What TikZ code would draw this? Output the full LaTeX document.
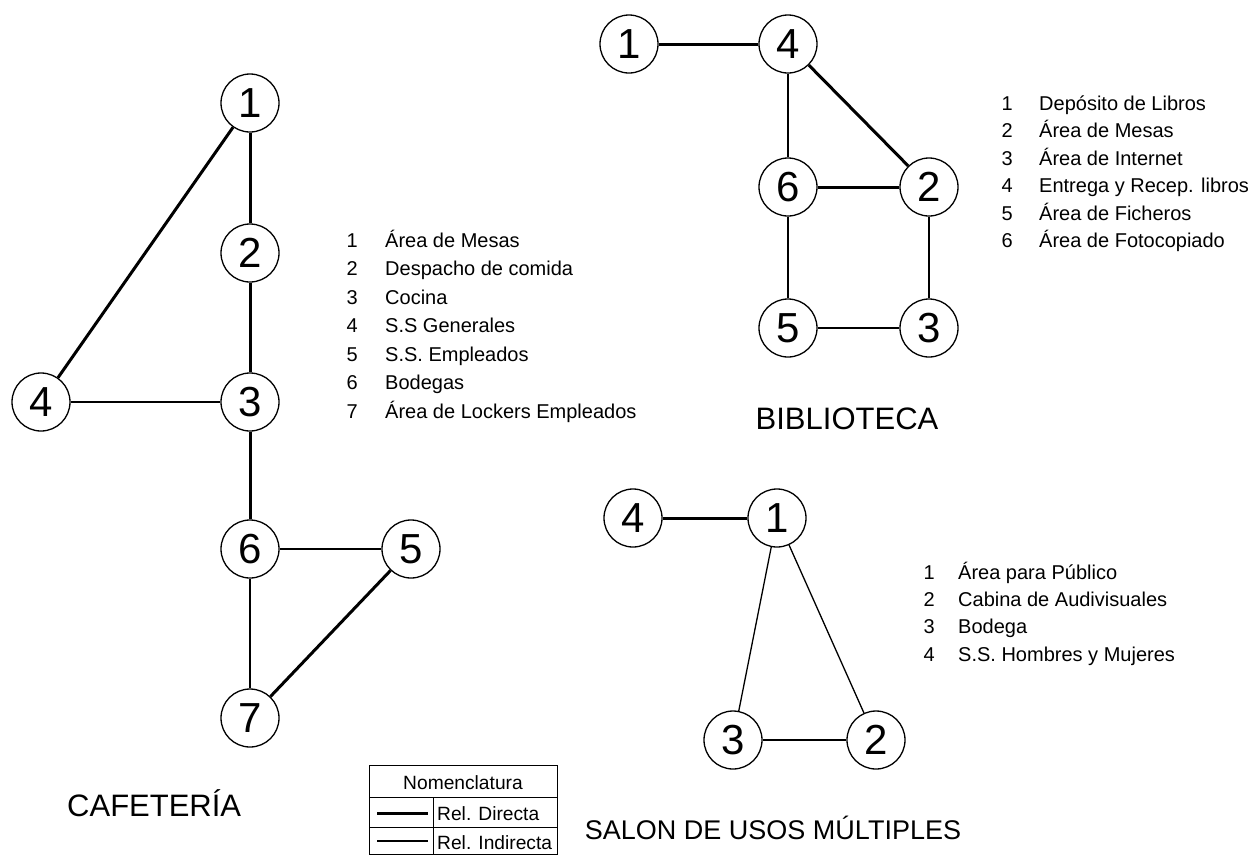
\documentclass[tikz,border=0pt]{standalone}
\usepackage{fontspec}
\setmainfont{Liberation Sans}
\begin{document}
\begin{tikzpicture}[x=1pt,y=-1pt,
  nd/.style={draw,circle,line width=1.3pt,minimum size=58pt,inner sep=0pt,font=\fontsize{42}{42}\selectfont},
  thk/.style={line width=3pt},
  thn/.style={line width=1.3pt},
  num/.style={anchor=base east,inner sep=0pt,font=\fontsize{20}{20}\selectfont},
  lbl/.style={anchor=base west,inner sep=0pt,font=\fontsize{20}{20}\selectfont},
  ttl/.style={inner sep=0pt,font=\fontsize{31}{31}\selectfont},
  ttls/.style={inner sep=0pt,font=\fontsize{27}{27}\selectfont},
  leg/.style={inner sep=0pt,font=\fontsize{19.2}{19.2}\selectfont}]
\useasboundingbox (0,0) rectangle (1253,855);
\fill[white] (0,0) rectangle (1253,855);

% ---------- CAFETERIA ----------
\node[nd] (c1) at (250,103) {1};
\node[nd] (c2) at (250,253) {2};
\node[nd] (c3) at (250,402) {3};
\node[nd] (c4) at (41,402) {4};
\node[nd] (c6) at (250,549) {6};
\node[nd] (c5) at (411,549) {5};
\node[nd] (c7) at (250,718) {7};
\draw[thk] (c1) -- (c2);
\draw[thk] (c2) -- (c3);
\draw[thk] (c1) -- (c4);
\draw[thn] (c4) -- (c3);
\draw[thk] (c3) -- (c6);
\draw[thn] (c6) -- (c5);
\draw[thn] (c6) -- (c7);
\draw[thk] (c5) -- (c7);

\node[num] (cn1) at (358,247) {1}; \node[lbl] (cl1) at (385,247) {Área de Mesas};
\node[num] (cn2) at (358,275.5) {2}; \node[lbl] (cl2) at (385,275.5) {Despacho de comida};
\node[num] (cn3) at (358,304) {3}; \node[lbl] (cl3) at (385,304) {Cocina};
\node[num] (cn4) at (358,332.5) {4}; \node[lbl] (cl4) at (385,332.5) {S.S Generales};
\node[num] (cn5) at (358,361) {5}; \node[lbl] (cl5) at (385,361) {S.S. Empleados};
\node[num] (cn6) at (358,389.5) {6}; \node[lbl] (cl6) at (385,389.5) {Bodegas};
\node[num] (cn7) at (358,418) {7}; \node[lbl] (cl7) at (385,418) {Área de Lockers Empleados};

\node[ttl,anchor=base west] (ct) at (67,816) {CAFETERÍA};

% ---------- BIBLIOTECA ----------
\node[nd] (b1) at (629,44) {1};
\node[nd] (b4) at (788,44) {4};
\node[nd] (b6) at (788,187) {6};
\node[nd] (b2) at (929,187) {2};
\node[nd] (b5) at (788,328) {5};
\node[nd] (b3) at (929,328) {3};
\draw[thk] (b1) -- (b4);
\draw[thk] (b4) -- (b2);
\draw[thn] (b4) -- (b6);
\draw[thk] (b6) -- (b2);
\draw[thn] (b6) -- (b5);
\draw[thn] (b2) -- (b3);
\draw[thn] (b5) -- (b3);

\node[num] (bn1) at (1013,110) {1}; \node[lbl] (bl1) at (1039,110) {Depósito de Libros};
\node[num] (bn2) at (1013,137.5) {2}; \node[lbl] (bl2) at (1039,137.5) {Área de Mesas};
\node[num] (bn3) at (1013,165) {3}; \node[lbl] (bl3) at (1039,165) {Área de Internet};
\node[num] (bn4) at (1013,192.5) {4}; \node[lbl] (bl4) at (1039,192.5) {Entrega y Recep. libros};
\node[num] (bn5) at (1013,220) {5}; \node[lbl] (bl5) at (1039,220) {Área de Ficheros};
\node[num] (bn6) at (1013,247.5) {6}; \node[lbl] (bl6) at (1039,247.5) {Área de Fotocopiado};

\node[ttl,anchor=base] (bt) at (847,429) {BIBLIOTECA};

% ---------- SALON ----------
\node[nd] (s4) at (633,518) {4};
\node[nd] (s1) at (777,518) {1};
\node[nd] (s3) at (733,740) {3};
\node[nd] (s2) at (876,740) {2};
\draw[thk] (s4) -- (s1);
\draw[thn] (s1) -- (s3);
\draw[thn] (s1) -- (s2);
\draw[thn] (s3) -- (s2);

\node[num] (sn1) at (935,579) {1}; \node[lbl] (sl1) at (958,579) {Área para Público};
\node[num] (sn2) at (935,606) {2}; \node[lbl] (sl2) at (958,606) {Cabina de Audivisuales};
\node[num] (sn3) at (935,633.5) {3}; \node[lbl] (sl3) at (958,633.5) {Bodega};
\node[num] (sn4) at (935,661) {4}; \node[lbl] (sl4) at (958,661) {S.S. Hombres y Mujeres};

\node[ttls,anchor=base] (st) at (773,839) {SALON DE USOS MÚLTIPLES};

% ---------- LEGEND ----------
\draw[line width=1pt] (369,765) rectangle (557,854);
\draw[line width=1pt] (369,797) -- (557,797);
\draw[line width=1pt] (369,827) -- (557,827);
\draw[line width=1pt] (433,797) -- (433,854);
\node[leg,anchor=base] (lt) at (463,789) {Nomenclatura};
\coordinate (la1) at (377,813); \coordinate (la2) at (428,813);
\coordinate (lb1) at (377,841); \coordinate (lb2) at (428,841);
\draw[thk] (la1) -- (la2);
\draw[thn] (lb1) -- (lb2);
\node[leg,anchor=base west] (ld) at (437,820) {Rel. Directa};
\node[leg,anchor=base west] (li) at (437,849) {Rel. Indirecta};
\end{tikzpicture}
\end{document}
